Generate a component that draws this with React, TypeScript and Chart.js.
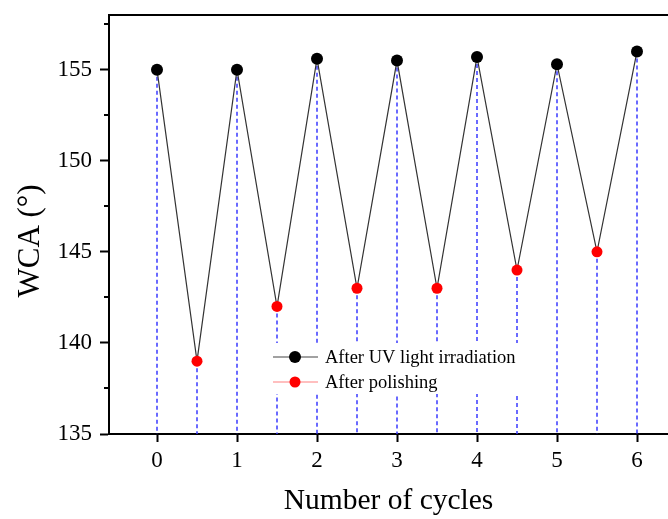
import React, { useEffect, useRef } from "react";
import { Chart, registerables } from "chart.js";

Chart.register(...registerables);

const cycles = [0, 1, 2, 3, 4, 5, 6];
const uvWCA = [155, 155, 155.6, 155.5, 155.7, 155.3, 156];
const polishCycles = [0.5, 1.5, 2.5, 3.5, 4.5, 5.5];
const polishWCA = [139, 142, 143, 143, 144, 145];
const yMinorTicks = [137.5, 142.5, 147.5, 152.5, 157.5];
const legendLabels = ["After UV light irradiation", "After polishing"];
const xTitle = "Number of cycles";
const yTitle = "WCA (°)";

const SERIF = "'Liberation Serif', 'Times New Roman', serif";

export default function App() {
  const ref = useRef<HTMLCanvasElement | null>(null);

  useEffect(() => {
    if (!ref.current) return;
    const uvPts = cycles.map((x, i) => ({ x, y: uvWCA[i] }));
    const polPts = polishCycles.map((x, i) => ({ x, y: polishWCA[i] }));
    const allPts = [...uvPts, ...polPts].sort((a, b) => a.x - b.x);

    const zeroPad = (s: any) => {
      s.paddingTop = 0;
      s.paddingBottom = 0;
      s.paddingLeft = 0;
      s.paddingRight = 0;
    };

    const decor = {
      id: "decor",
      beforeDatasetsDraw(chart: any) {
        const { ctx, chartArea, scales } = chart;
        const xs = scales.x, ys = scales.y;
        ctx.save();
        ctx.strokeStyle = "#3a3aff";
        ctx.lineWidth = 1.5;
        ctx.setLineDash([4, 3]);
        allPts.forEach((p) => {
          const px = Math.round(xs.getPixelForValue(p.x));
          ctx.beginPath();
          ctx.moveTo(px, ys.getPixelForValue(p.y));
          ctx.lineTo(px, chartArea.bottom);
          ctx.stroke();
        });
        ctx.setLineDash([]);
        ctx.restore();
      },
      afterDatasetsDraw(chart: any) {
        const { ctx, chartArea, scales } = chart;
        const ys = scales.y;
        ctx.save();
        ctx.fillStyle = "#ffffff";
        ctx.fillRect(265, 343, 265, 51);
        const rows = [
          { y: 357, line: "#444444", dot: "#000000", r: 6 },
          { y: 382, line: "#ff8080", dot: "#ff0000", r: 5.5 },
        ];
        rows.forEach((row, i) => {
          ctx.strokeStyle = row.line;
          ctx.lineWidth = 1.2;
          ctx.beginPath();
          ctx.moveTo(273, row.y);
          ctx.lineTo(318, row.y);
          ctx.stroke();
          ctx.fillStyle = row.dot;
          ctx.beginPath();
          ctx.arc(295, row.y, row.r, 0, Math.PI * 2);
          ctx.fill();
          ctx.fillStyle = "#000";
          ctx.font = `18.5px ${SERIF}`;
          ctx.textBaseline = "middle";
          ctx.textAlign = "left";
          ctx.fillText(legendLabels[i], 325, row.y + 1);
        });
        ctx.strokeStyle = "#000";
        ctx.lineWidth = 2;
        ctx.beginPath();
        ctx.moveTo(chartArea.left - 1, chartArea.top);
        ctx.lineTo(chartArea.right, chartArea.top);
        ctx.stroke();
        yMinorTicks.forEach((v) => {
          const py = Math.round(ys.getPixelForValue(v));
          ctx.beginPath();
          ctx.moveTo(chartArea.left - 5, py);
          ctx.lineTo(chartArea.left, py);
          ctx.stroke();
        });
        ctx.fillStyle = "#000";
        ctx.translate(31, 241);
        ctx.rotate(-Math.PI / 2);
        ctx.font = `31px ${SERIF}`;
        ctx.textAlign = "center";
        ctx.textBaseline = "middle";
        ctx.fillText(yTitle, 0, 0);
        ctx.restore();
      },
    };

    const chart = new Chart(ref.current, {
      type: "scatter",
      data: {
        datasets: [
          {
            label: "line",
            data: allPts,
            showLine: true,
            borderColor: "#333333",
            borderWidth: 1.2,
            pointRadius: 0,
            order: 3,
          },
          {
            label: legendLabels[0],
            data: uvPts,
            backgroundColor: "#000000",
            borderColor: "#000000",
            pointRadius: 6,
            borderWidth: 0,
            order: 1,
          },
          {
            label: legendLabels[1],
            data: polPts,
            backgroundColor: "#ff0000",
            borderColor: "#ff0000",
            pointRadius: 5.5,
            borderWidth: 0,
            order: 2,
          },
        ],
      },
      options: {
        responsive: false,
        animation: false,
        layout: { autoPadding: false, padding: { top: 15, right: 0, left: 0, bottom: 0 } },
        plugins: { legend: { display: false }, tooltip: { enabled: false } },
        scales: {
          x: {
            type: "linear",
            min: -0.6,
            max: 6.3875,
            afterFit: (s: any) => {
              s.height = 85;
              zeroPad(s);
            },
            ticks: {
              stepSize: 1,
              includeBounds: false,
              color: "#000",
              font: { family: SERIF, size: 23 },
              padding: 5,
              maxRotation: 0,
            },
            grid: {
              drawOnChartArea: false,
              drawTicks: true,
              tickLength: 8,
              tickColor: "#000",
              tickWidth: 2,
            },
            border: { display: true, color: "#000", width: 2 },
            title: {
              display: true,
              text: xTitle,
              color: "#000",
              font: { family: SERIF, size: 29.5 },
              padding: { top: 0, bottom: 0 },
            },
          },
          y: {
            type: "linear",
            min: 135,
            max: 158,
            afterFit: (s: any) => {
              s.width = 109;
              zeroPad(s);
            },
            ticks: {
              stepSize: 5,
              includeBounds: false,
              color: "#000",
              font: { family: SERIF, size: 23 },
              padding: 8,
            },
            grid: {
              drawOnChartArea: false,
              drawTicks: true,
              tickLength: 9,
              tickColor: "#000",
              tickWidth: 2,
            },
            border: { display: true, color: "#000", width: 2 },
            title: { display: false },
          },
        },
      },
      plugins: [decor],
    });
    return () => chart.destroy();
  }, []);

  return (
    <canvas
      ref={ref}
      width={668}
      height={519}
      style={{ position: "fixed", left: 0, top: 0, width: 668, height: 519, background: "#fff" }}
    />
  );
}
